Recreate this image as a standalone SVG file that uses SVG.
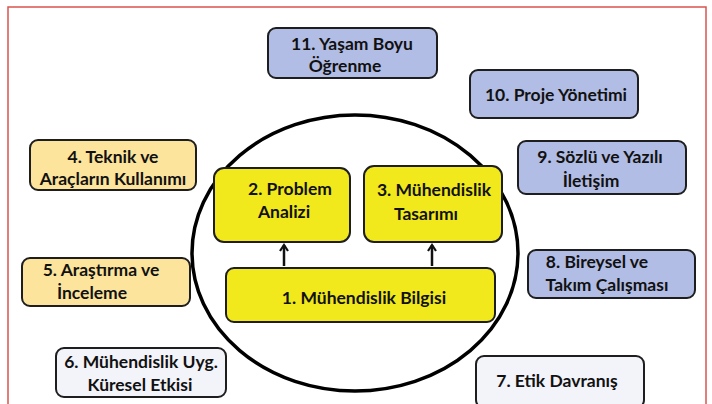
<svg xmlns="http://www.w3.org/2000/svg" width="712" height="404" viewBox="0 0 712 404">
<defs>
<style>
.b{stroke:#1e1e1e;stroke-width:2}
.blue{fill:#b1bde4}
.orange{fill:#fde49c}
.yellow{fill:#f1e91c}
.pale{fill:#f3f3fa}
text{font-family:Lato,"Open Sans","Liberation Sans",sans-serif;font-weight:bold;font-size:17.5px;fill:#111;text-anchor:middle}
.conn{stroke:#111;stroke-width:2.5;fill:none}
</style>
<marker id="ah" viewBox="0 0 10 10" refX="8" refY="5" markerWidth="10" markerHeight="10" markerUnits="userSpaceOnUse" orient="auto">
<path d="M2,1 L8,5 L2,9" fill="none" stroke="#111" stroke-width="2.2"/>
</marker>
</defs>
<rect x="0" y="0" width="712" height="404" fill="#ffffff"/>
<rect x="8" y="7" width="698" height="410" fill="none" stroke="#d9534f" stroke-width="1.5"/>
<ellipse cx="355" cy="253" rx="163" ry="138" fill="none" stroke="#000" stroke-width="3.5"/>

<g id="n11"><rect class="b blue" x="268" y="28" width="169" height="50" rx="8"/><text x="352" y="50">11. Yaşam Boyu</text><text x="345" y="72">Öğrenme</text></g>
<g id="n10"><rect class="b blue" x="470" y="70" width="168" height="48" rx="8"/><text x="556" y="101">10. Proje Yönetimi</text></g>
<g id="n4"><rect class="b orange" x="30" y="140" width="166" height="50" rx="8"/><text x="113" y="163">4. Teknik ve</text><text x="113" y="185">Araçların Kullanımı</text></g>
<g id="n9"><rect class="b blue" x="518" y="141" width="168" height="53" rx="8"/><text x="600" y="163">9. Sözlü ve Yazılı</text><text x="591" y="187">İletişim</text></g>
<g id="n2"><rect class="b yellow" x="214" y="168" width="136" height="74" rx="10"/><text x="290" y="195">2. Problem</text><text x="284" y="218">Analizi</text></g>
<g id="n3"><rect class="b yellow" x="364" y="166" width="138" height="76" rx="10"/><text x="434" y="196">3. Mühendislik</text><text x="426" y="220">Tasarımı</text></g>
<g id="n1"><rect class="b yellow" x="226" y="268" width="269" height="54" rx="8"/><text x="364" y="304">1. Mühendislik Bilgisi</text></g>
<g id="n5"><rect class="b orange" x="22" y="258" width="168" height="48" rx="8"/><text x="101" y="276">5. Araştırma ve</text><text x="92" y="299">İnceleme</text></g>
<g id="n8"><rect class="b blue" x="528" y="250" width="167" height="48" rx="8"/><text x="597" y="268">8. Bireysel ve</text><text x="607" y="291">Takım Çalışması</text></g>
<g id="n6"><rect class="b pale" x="56" y="348" width="170" height="49" rx="8"/><text x="141" y="368">6. Mühendislik Uyg.</text><text x="140" y="391">Küresel Etkisi</text></g>
<g id="n7"><rect class="b pale" x="476" y="356" width="168" height="52" rx="8"/><text x="557" y="387">7. Etik Davranış</text></g>

<g id="connectors">
<line class="conn" x1="284" y1="266" x2="284" y2="245" marker-end="url(#ah)"/>
<line class="conn" x1="432" y1="266" x2="432" y2="245" marker-end="url(#ah)"/>
</g>
</svg>
